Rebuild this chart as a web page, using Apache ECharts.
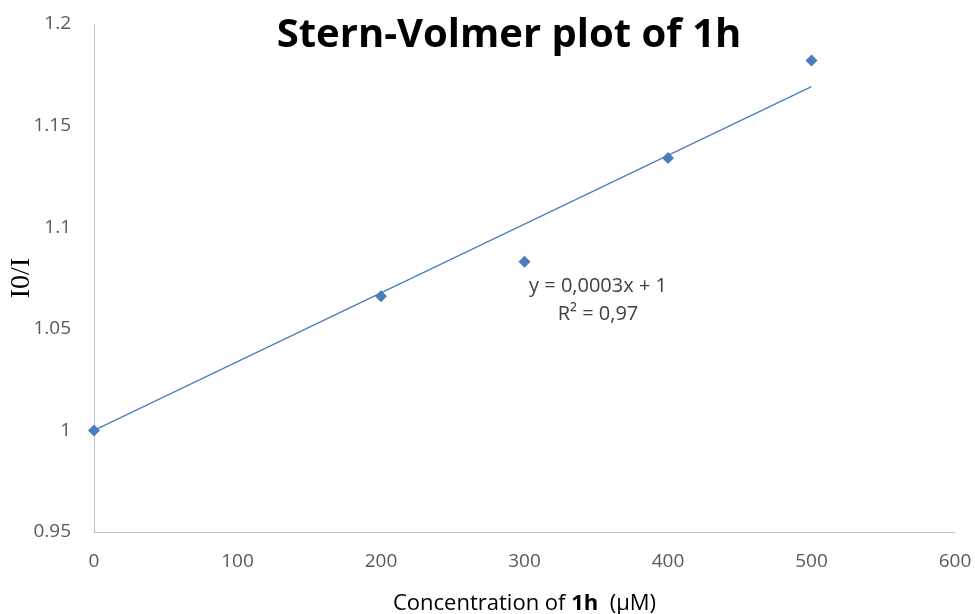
<!DOCTYPE html>
<html><head><meta charset="utf-8">
<script src="https://cdn.jsdelivr.net/npm/echarts@6/dist/echarts.min.js"></script>
<style>html,body{margin:0;padding:0;background:#fff}#c{width:975px;height:614px}</style>
</head><body><div id="c"></div>
<script>
const concentrations = [0, 200, 300, 400, 500];
const ratios = [1.0, 1.066, 1.083, 1.134, 1.182];
const xTicks = [0, 100, 200, 300, 400, 500, 600];
const yTicks = [0.95, 1, 1.05, 1.1, 1.15, 1.2];
const equationLines = ['y = 0,0003x + 1', 'R² = 0,97'];

// linear trend with fixed intercept 1 (least squares)
let num = 0, den = 0;
concentrations.forEach((x, i) => { num += x * (ratios[i] - 1); den += x * x; });
const slope = num / den;
const xMaxData = Math.max(...concentrations);
const trend = [[0, 1], [xMaxData, 1 + slope * xMaxData]];

const chart = echarts.init(document.getElementById('c'));
const font = "'Open Sans', sans-serif";
chart.setOption({
  animation: false,
  title: {
    text: 'Stern-Volmer plot of 1h', left: 504, top: 11, textAlign: 'center',
    textStyle: { fontFamily: font, fontWeight: 'bold', fontSize: 40, color: '#000' }
  },
  grid: { left: 94, right: 20, top: 24, bottom: 82, containLabel: false, outerBoundsMode: 'none' },
  xAxis: {
    type: 'value', min: 0, max: 600, interval: 100,
    axisLine: { show: true, lineStyle: { color: '#bfbfbf', width: 1 } },
    axisTick: { show: false }, splitLine: { show: false },
    axisLabel: { color: '#595959', fontSize: 19, fontFamily: font, margin: 20 },
    name: '{n|Concentration of }{b|1h}{n|  (µM)}', nameLocation: 'middle', nameGap: 61,
    nameTextStyle: { rich: {
      n: { fontFamily: font, fontSize: 22, color: '#000' },
      b: { fontFamily: font, fontSize: 22, color: '#000', fontWeight: 'bold' } } }
  },
  yAxis: {
    type: 'value', min: 0.95, max: 1.2, interval: 0.05,
    axisLine: { show: true, lineStyle: { color: '#bfbfbf', width: 1 } },
    axisTick: { show: false }, splitLine: { show: false },
    axisLabel: { color: '#595959', fontSize: 19, fontFamily: font, margin: 23,
      formatter: v => String(+v.toFixed(2)) },
    name: 'I0/I', nameLocation: 'middle', nameGap: 58, nameRotate: 90, nameMoveOverlap: false,
    nameTextStyle: { fontFamily: "'Liberation Serif', serif", fontSize: 28, color: '#000' }
  },
  series: [
    { type: 'line', data: trend, showSymbol: false, symbol: 'none',
      lineStyle: { color: '#4a7ebb', width: 1.2 }, z: 2 },
    { type: 'scatter', data: concentrations.map((x, i) => [x, ratios[i]]),
      symbol: 'diamond', symbolSize: 12, itemStyle: { color: '#4a7ebb', opacity: 1 }, z: 3 }
  ],
  graphic: [
    { type: 'text', x: 598, y: 286, style: { text: equationLines[0], x: 0, y: 0, align: 'center', verticalAlign: 'middle',
      font: "20px 'Open Sans', sans-serif", fill: '#404040' } },
    { type: 'text', x: 598, y: 314, style: { text: equationLines[1], x: 0, y: 0, align: 'center', verticalAlign: 'middle',
      font: "20px 'Open Sans', sans-serif", fill: '#404040' } }
  ]
});
</script></body></html>
